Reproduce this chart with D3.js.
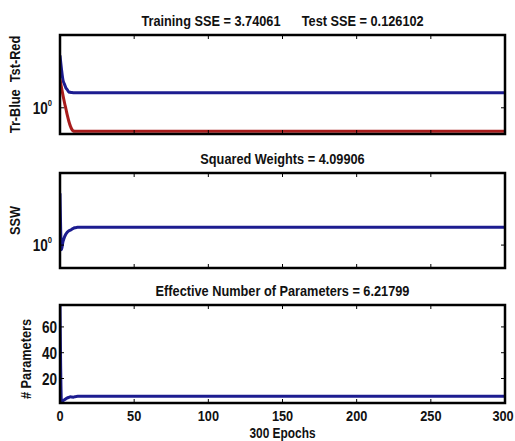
<!DOCTYPE html>
<html>
<head>
<meta charset="utf-8">
<script src="https://cdn.jsdelivr.net/npm/d3@7"></script>
<style>
  body { margin: 0; background: #fff; }
  svg text { font-family: "Liberation Sans", Arial, sans-serif; font-weight: bold; fill: #111; }
</style>
</head>
<body>
<svg id="chart"></svg>
<script>
// epochs and series (the flat tails run to epoch 300)
const epochs = [0, 1, 2, 3, 4, 5, 6, 7, 8, 9, 10, 11, 12, 14, 20, 50, 100, 150, 200, 250, 300];
const trainSSE = [100, 30, 11.5, 8, 5.7, 4.8, 4.0, 3.9, 3.8, 3.76, 3.75, 3.745, 3.742, 3.741, 3.7406, 3.7406, 3.7406, 3.7406, 3.7406, 3.7406, 3.7406];
const testSSE = [12, 6, 3, 1.6, 0.9, 0.5, 0.3, 0.2, 0.15, 0.13, 0.127, 0.1262, 0.1261, 0.1261, 0.1261, 0.1261, 0.1261, 0.1261, 0.1261, 0.1261, 0.1261];
const ssw = [59, 0.7, 1.3, 1.87, 2.4, 2.8, 3.1, 3.23, 3.5, 3.75, 3.9, 4.0, 4.05, 4.09, 4.099, 4.099, 4.099, 4.099, 4.099, 4.099, 4.099];
const gamk = [77, 2, 2.8, 3.5, 4.3, 5, 5.4, 5.8, 5.6, 5.5, 5.9, 6.1, 6.2, 6.22, 6.218, 6.218, 6.218, 6.218, 6.218, 6.218, 6.218];

const xTicks = [0, 50, 100, 150, 200, 250, 300];
const paramTicks = [20, 40, 60];
const logTicks = [1];

const gap = "\u00a0".repeat(6);
const titles = ["Training SSE = 3.74061" + gap + "Test SSE = 0.126102", "Squared Weights = 4.09906", "Effective Number of Parameters = 6.21799"];
const yLabels = ["Tr-Blue\u00a0\u00a0Tst-Red", "SSW", "# Parameters"];

const width = 515, height = 441;
const BLUE = "#1c1c90", RED = "#a81c1c";
const SQUEEZE = 0.85; // the reference font is a condensed one

const svg = d3.select("#chart").attr("width", width).attr("height", height);

const x = d3.scaleLinear().domain([0, 300]).range([60, 505]);

function label(g, tx, ty, size, anchor, rot) {
  return g.append("text")
    .attr("transform", `translate(${tx},${ty})${rot ? " rotate(-90)" : ""} scale(${SQUEEZE},1)`)
    .attr("text-anchor", anchor)
    .attr("font-size", size);
}

const panels = [
  { top: 35, bottom: 134, y: d3.scaleLog().domain([0.1, 600]), ticks: logTicks, series: [trainSSE, testSSE], colors: [BLUE, RED], labelX: 20 },
  { top: 173, bottom: 268, y: d3.scaleLog().domain([0.165, 290]), ticks: logTicks, series: [ssw], colors: [BLUE], labelX: 20 },
  { top: 305, bottom: 403, y: d3.scaleLinear().domain([1, 77]), ticks: paramTicks, series: [gamk], colors: [BLUE], labelX: 31 }
];

panels.forEach((p, i) => {
  p.y.range([p.bottom, p.top]);
  const g = svg.append("g");

  g.append("clipPath").attr("id", "clip" + i)
    .append("rect").attr("x", 60).attr("y", p.top).attr("width", 445).attr("height", p.bottom - p.top);

  const line = d3.line().x((d, j) => x(epochs[j])).y(d => p.y(d)).curve(d3.curveMonotoneX);
  p.series.forEach((s, k) => {
    g.append("path")
      .attr("d", line(s))
      .attr("fill", "none")
      .attr("stroke", p.colors[k])
      .attr("stroke-width", 3)
      .attr("clip-path", `url(#clip${i})`);
  });

  // inward ticks on all sides
  xTicks.slice(1, -1).forEach(t => {
    g.append("line").attr("x1", x(t)).attr("x2", x(t)).attr("y1", p.top).attr("y2", p.top + 4)
      .attr("stroke", "#000").attr("stroke-width", 1);
    g.append("line").attr("x1", x(t)).attr("x2", x(t)).attr("y1", p.bottom).attr("y2", p.bottom - 4)
      .attr("stroke", "#000").attr("stroke-width", 1);
  });
  p.ticks.forEach(t => {
    g.append("line").attr("x1", 60).attr("x2", 64).attr("y1", p.y(t)).attr("y2", p.y(t))
      .attr("stroke", "#000").attr("stroke-width", 1);
    g.append("line").attr("x1", 505).attr("x2", 501).attr("y1", p.y(t)).attr("y2", p.y(t))
      .attr("stroke", "#000").attr("stroke-width", 1);
    if (i < 2) {
      const lab = label(g, 52, p.y(t) + 6, 16, "end");
      lab.append("tspan").text("10");
      lab.append("tspan").text("0").attr("font-size", 9).attr("dy", -8);
    } else {
      label(g, 57, p.y(t) + 6, 16, "end").text(t);
    }
  });

  g.append("rect")
    .attr("x", 60).attr("y", p.top).attr("width", 445).attr("height", p.bottom - p.top)
    .attr("fill", "none").attr("stroke", "#000").attr("stroke-width", 2.5);

  label(g, 282.5, p.top - 9, 15, "middle").text(titles[i]);

  label(g, p.labelX, (p.top + p.bottom) / 2 + (i === 2 ? 5 : 0), 15, "middle", true).text(yLabels[i]);

  if (i === 2) {
    xTicks.forEach(t => {
      label(g, Math.min(x(t), 503), 421, 15, "middle").text(t);
    });
    label(g, 282.5, 438, 14, "middle").text("300 Epochs");
  }
});
</script>
</body>
</html>
